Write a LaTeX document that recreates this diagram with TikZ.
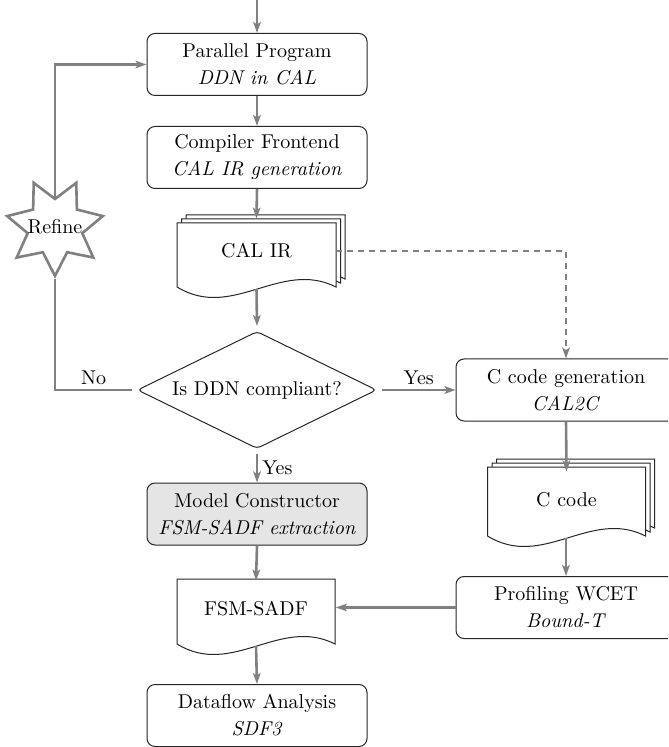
\documentclass[tikz,border=0pt]{standalone}
\usetikzlibrary{arrows.meta,shapes.geometric}

\definecolor{flowgray}{gray}{0.5}
\definecolor{boxedge}{gray}{0.15}

% One page of a document symbol: left, top, width, height of the straight sides
\newcommand\docpage[4]{%
  \draw[docline] (#1,#2) -- (#1+#3,#2) -- (#1+#3,#2+#4)
    .. controls (#1+0.65*#3,#2+#4-28) and (#1+0.35*#3,#2+#4+34) .. (#1,#2+#4) -- cycle;}
% A stack of three pages
\newcommand\docstack[4]{%
  \docpage{#1+9}{#2-8}{#3}{#4}%
  \docpage{#1+4.5}{#2-4}{#3}{#4}%
  \docpage{#1}{#2}{#3}{#4}}

\begin{document}
\begin{tikzpicture}[x=0.5pt,y=-0.5pt,
  flowline/.style={draw=flowgray, line width=1.3pt,
    -{Stealth[length=5.5pt,width=3.8pt,inset=1.3pt]}},
  plainline/.style={draw=flowgray, line width=1.3pt},
  dashline/.style={flowline, dash pattern=on 3pt off 2.5pt},
  docline/.style={draw=boxedge, line width=0.5pt, fill=white},
  stepbox/.style={draw=boxedge, line width=0.5pt, rounded corners=4pt,
    minimum width=110pt, minimum height=31pt, align=center, inner sep=0pt,
    fill=white},
  doctext/.style={inner sep=0pt, minimum width=79.5pt, minimum height=28pt},
  decision/.style={diamond, draw=boxedge, line width=0.5pt, rounded corners=2pt,
    aspect=2, minimum width=121pt, minimum height=60pt, inner sep=2pt,
    outer sep=2pt},
  refinestar/.style={star, star points=7, star point ratio=1.75,
    shape border rotate=180, draw=flowgray, line width=1.3pt, fill=white,
    minimum size=49pt, inner sep=0pt},
  lbl/.style={inner sep=2pt}
]
\clip (0,0) rectangle (668,747);
\useasboundingbox (0,0) rectangle (668,747);

% document symbols
\docstack{177}{223}{159}{64}
\docstack{487.5}{467}{158}{69}
\docpage{177}{579}{158}{65}

% left column
\coordinate (entry) at (257,0);
\node[stepbox] (pp) at (257,64.5) {Parallel Program\\[1.5pt]\textit{DDN in CAL}};
\node[stepbox] (cf) at (257,157.5) {Compiler Frontend\\[1.5pt]\textit{CAL IR generation}};
\node[doctext] (calir) at (256.5,251) {CAL IR};
\coordinate (calir-out) at (256.5,289);
\node[decision] (dec) at (257,390) {Is DDN compliant?};
\node[stepbox, fill=gray!20] (mc) at (257,514) {Model Constructor\\[1.5pt]\textit{FSM-SADF extraction}};
\node[doctext] (fsm) at (256,609) {FSM-SADF};
\coordinate (fsm-out) at (256,646);
\node[stepbox] (dfa) at (257,715.5) {Dataflow Analysis\\[1.5pt]\textit{SDF3}};

% right column
\node[stepbox] (ccg) at (566,390) {C code generation\\[1.5pt]\textit{CAL2C}};
\node[doctext] (ccode) at (566.5,500) {C code};
\coordinate (ccode-out) at (566,538);
\node[stepbox] (prof) at (566,607.5) {Profiling WCET\\[1.5pt]\textit{Bound-T}};

% refinement loop
\node[refinestar, label={[inner sep=0pt]center:Refine}] (refine) at (55,227) {};

% connectors
\draw[flowline] (entry) -- (pp.north);
\draw[flowline] (pp.south) -- (cf.north);
\draw[flowline] (cf.south) -- ([yshift=2pt]calir.north);
\draw[flowline] (calir-out) -- (dec.north);
\draw[flowline] (dec.south) -- node[lbl, right] {Yes} (mc.north);
\draw[flowline] (mc.south) -- (fsm.north);
\draw[flowline] (fsm-out) -- (dfa.north);
\draw[flowline] (dec.east) -- node[lbl, above] {Yes} (ccg.west);
\draw[flowline] (ccg.south) -- (ccode.north);
\draw[flowline] (ccode-out) -- (prof.north);
\draw[flowline] (prof.west) -- (prof.west -| fsm.east);
\draw[dashline] (calir.east) -| (ccg.north);
\draw[plainline] (dec.west) -- node[lbl, above] {No} (dec.west -| refine.south) -- (refine.south);
\draw[flowline] (refine.north) |- (pp.west);
\end{tikzpicture}
\end{document}
